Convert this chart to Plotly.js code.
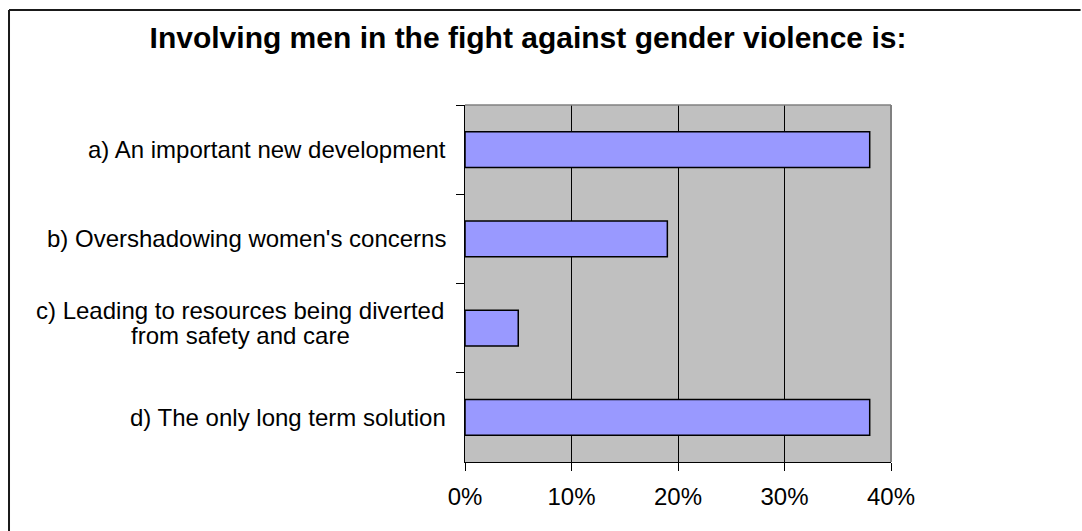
<!DOCTYPE html>
<html>
<head>
<meta charset="utf-8">
<script src="https://cdn.plot.ly/plotly-3.0.1.min.js"></script>
<style>
  html, body { margin: 0; padding: 0; background: #ffffff; overflow: hidden; }
  #chart { width: 1082px; height: 531px; }
</style>
</head>
<body>
<div id="chart"></div>
<script>
// Survey answers and the share of respondents (in %) choosing each one
const categories = [
  "a) An important new development",
  "b) Overshadowing women's concerns",
  "c) Leading to resources being diverted<br>from safety and care",
  "d) The only long term solution"
];
const shares = [38, 19, 5, 38];
const xTickValues = [0, 10, 20, 30, 40];
const xTickLabels = ["0%", "10%", "20%", "30%", "40%"];
const chartTitle = "Involving men in the fight against gender violence is:";

const FONT = "Arial, 'Liberation Sans', sans-serif";

const trace = {
  type: "bar",
  orientation: "h",
  y: categories,
  x: shares,
  marker: { color: "#9999ff", line: { color: "#000000", width: 1.5 } },
  hoverinfo: "skip"
};

// Category labels: each line is its own centred text, stacked with a tight line gap
const LINE_GAP = 25;
const labelAnnotations = [];
categories.forEach(c => {
  const lines = c.split("<br>");
  const blockShift = lines.length > 1 ? 5 : 0;
  lines.forEach((line, i) => {
    const offset = (i - (lines.length - 1) / 2) * LINE_GAP;
    labelAnnotations.push({
      xref: "paper", yref: "y",
      x: 0, y: c,
      xanchor: lines.length > 1 ? "center" : "right",
      yanchor: "middle",
      xshift: lines.length > 1 ? -225 : -17,
      yshift: -offset + blockShift,
      showarrow: false,
      text: line,
      font: { family: FONT, size: 24, color: "#000000" }
    });
  });
});

const layout = {
  width: 1082,
  height: 531,
  margin: { l: 465, r: 191, t: 105, b: 69, pad: 0 },
  paper_bgcolor: "#ffffff",
  plot_bgcolor: "#c0c0c0",
  showlegend: false,
  bargap: 0.6,
  title: {
    text: "<b>" + chartTitle + "</b>",
    x: 0.488, xref: "container", xanchor: "center",
    y: 0.93, yref: "container", yanchor: "middle",
    font: { family: FONT, size: 30, color: "#000000" }
  },
  xaxis: {
    range: [0, 40],
    tickmode: "array",
    tickvals: xTickValues,
    ticktext: xTickLabels,
    ticks: "outside",
    ticklen: 8,
    tickcolor: "#000000",
    tickwidth: 1,
    ticklabelstandoff: 5,
    showline: true,
    linecolor: "#000000",
    linewidth: 1,
    showgrid: true,
    gridcolor: "#000000",
    gridwidth: 1,
    zeroline: false,
    fixedrange: true,
    tickfont: { family: FONT, size: 24, color: "#000000" }
  },
  yaxis: {
    type: "category",
    categoryorder: "array",
    categoryarray: categories,
    autorange: "reversed",
    tickson: "boundaries",
    ticks: "outside",
    ticklen: 8,
    tickcolor: "#000000",
    tickwidth: 1,
    showticklabels: false,
    showline: true,
    linecolor: "#000000",
    linewidth: 1,
    showgrid: false,
    zeroline: false,
    fixedrange: true
  },
  annotations: labelAnnotations,
  shapes: [
    // plot-area frame on the top and right sides
    { type: "line", xref: "paper", yref: "paper", x0: 0, x1: 1, y0: 1, y1: 1,
      line: { color: "#808080", width: 1.5 }, layer: "above" },
    { type: "line", xref: "paper", yref: "paper", x0: 1, x1: 1, y0: 0, y1: 1,
      line: { color: "#808080", width: 2 }, layer: "above" },
    // outer chart border (left and top edges)
    { type: "line", xref: "paper", yref: "paper",
      x0: -1.0704, x1: -1.0704, y0: -0.3, y1: 1.266,
      line: { color: "#1a1a1a", width: 2 }, layer: "above" },
    { type: "line", xref: "paper", yref: "paper",
      x0: -1.0704, x1: 1.445, y0: 1.266, y1: 1.266,
      line: { color: "#1a1a1a", width: 2 }, layer: "above" }
  ]
};

Plotly.newPlot("chart", [trace], layout, { staticPlot: true, displayModeBar: false });
</script>
</body>
</html>
